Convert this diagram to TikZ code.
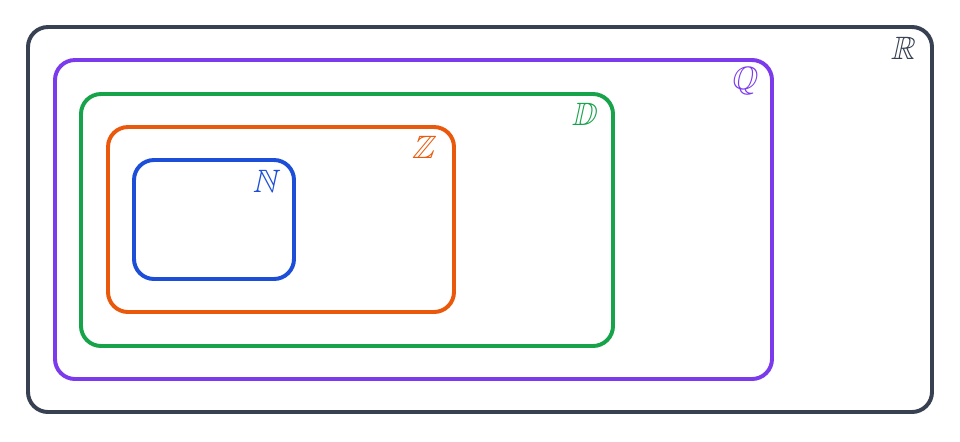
\documentclass[tikz,border=0pt]{standalone}
\usepackage{amsmath,amssymb}
\definecolor{colr}{HTML}{374151}
\definecolor{colq}{HTML}{7C3AED}
\definecolor{cold}{HTML}{16A34A}
\definecolor{colz}{HTML}{EA580C}
\definecolor{coln}{HTML}{1D4ED8}
\tikzset{%
    setb/.style={line width = 2.8pt, rounded corners=0.5cm},
    lab/.style={inner sep=0pt, xslant=0.22, font=\fontsize{23}{25}\selectfont},
}
\begin{document}
\begin{tikzpicture}[x=0.025cm, y=-0.025cm]
    \useasboundingbox (0,0) rectangle (960,441);
    \draw [setb, colr] (28,27) rectangle (932,412);
    \draw [setb, colq] (55,60) rectangle (772,379);
    \draw [setb, cold] (81,94) rectangle (613,346);
    \draw [setb, colz] (108,127) rectangle (454,312);
    \draw [setb, coln] (134,160) rectangle (294,279);
    \node [lab, text=colr] (lr) at (905,48) {$\mathbb{R}$};
    \node [lab, text=colq] (lq) at (745,81) {$\mathbb{Q}$};
    \node [lab, text=cold] (ld) at (586,114) {$\mathbb{D}$};
    \node [lab, text=colz] (lz) at (425,147) {$\mathbb{Z}$};
    \node [lab, text=coln] (ln) at (267,181) {$\mathbb{N}$};
\end{tikzpicture}
\end{document}
